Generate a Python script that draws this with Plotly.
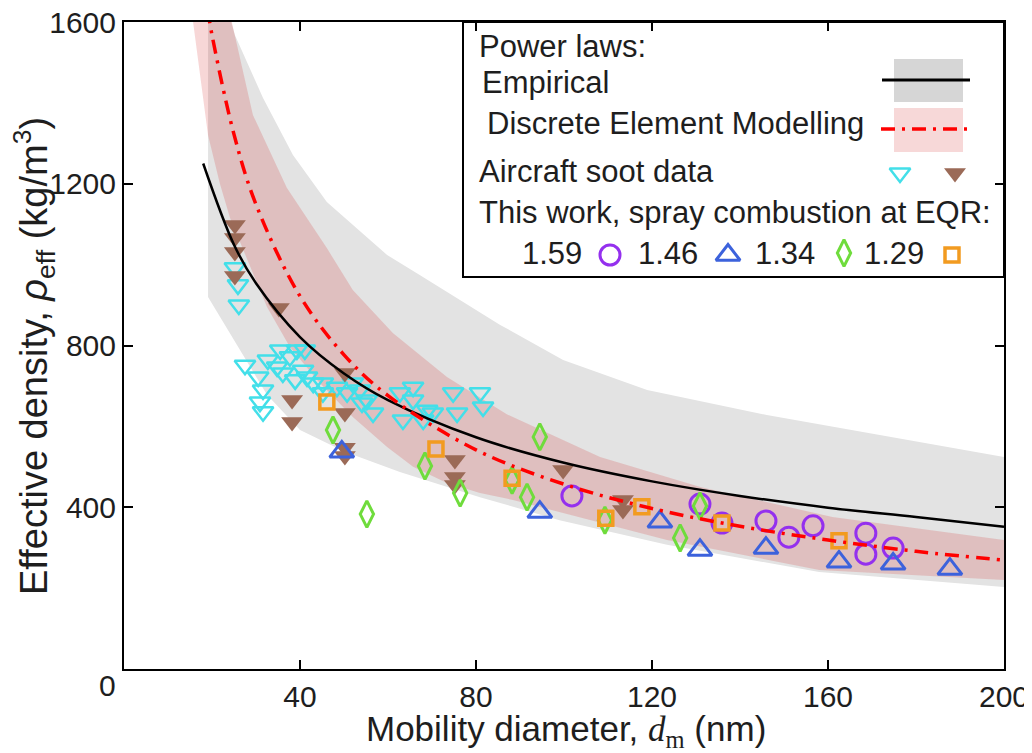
import plotly.graph_objects as go

# ---------------- data ----------------
# Empirical power law (black line) and its band
emp_d = [18.0, 25, 30, 40, 50, 60, 80, 100, 120, 140, 160, 180, 200]
emp_rho = [1250, 1049, 954, 821, 731, 665, 573, 510, 464, 428, 399, 376, 352]
emp_up_d = [19.1, 25.2, 31.6, 38.4, 46.1, 59.8, 67.3, 85.5, 99.8, 118.9, 146.1, 168.9, 200]
emp_up_rho = [1800, 1568, 1412, 1271, 1155, 1024, 974, 851, 764, 690, 628, 584, 524]
emp_lo_d = [19.1, 25.7, 32.5, 40, 50.2, 62.7, 80.9, 99, 123.4, 158, 200]
emp_lo_rho = [920, 801, 678, 591, 537, 487, 425, 368, 307, 240, 203]

# Discrete Element Modelling power law (red dash-dot) and its band
dem_d = [19, 20, 25, 30, 40, 50, 60, 80, 100, 120, 140, 160, 180, 200]
dem_rho = [1631, 1568, 1322, 1149, 922, 777, 676, 542, 457, 397, 353, 319, 291, 269]
dem_up_d = [15.7, 19, 24.5, 29.3, 37, 46.1, 52, 61.1, 73.4, 87, 108.2, 131, 161, 200]
dem_up_rho = [2270, 1960, 1600, 1370, 1190, 1041, 937, 831, 722, 630, 524, 450, 376, 319]
dem_lo_d = [15.7, 19.1, 21.8, 24.1, 32.5, 37.7, 44.5, 52, 59.8, 65.7, 73.4, 80.9, 88.4, 123.4, 158, 200]
dem_lo_rho = [1600, 1320, 1200, 1115, 895, 796, 707, 623, 549, 500, 460, 435, 418, 319, 245, 220]

# Aircraft soot data (open cyan / filled brown)
air1_d = [25.2, 25.9, 26.1, 27.5, 30.5, 31.6, 30.9, 31.6, 32.7, 35.5, 34.8, 36.1, 37.7, 39.3,
          41.1, 40.7, 38.9, 41.6, 43.0, 45.2, 45.2, 48.4, 50.7, 52.0, 53.6, 55.2, 56.6, 54.1,
          62.7, 65.7, 65.7, 63.4, 68.9, 68.0, 70.2, 74.8, 75.7, 80.9, 81.6]
air1_rho = [992, 950, 900, 751, 722, 690, 660, 636, 764, 789, 747, 732, 772, 789,
            789, 739, 715, 722, 707, 707, 683, 697, 683, 707, 690, 665, 633, 658,
            683, 697, 665, 616, 640, 616, 633, 683, 633, 683, 648]
air2_d = [25.2, 25.2, 25.2, 25.2, 35.2, 38.2, 38.2, 50.2, 50.2, 50.2, 50.2,
          75.2, 75.2, 75.2, 99.8, 113.4, 113.4]
air2_rho = [1098, 1066, 1031, 972, 893, 665, 611, 732, 633, 547, 527,
            517, 475, 455, 492, 418, 393]

# This work, spray combustion at EQR
eqr_labels = ["1.59", "1.46", "1.34", "1.29"]
e159_d = [101.8, 130.9, 135.9, 145.9, 151.1, 156.6, 168.6, 168.6, 174.8]
e159_rho = [428, 408, 361, 366, 326, 354, 336, 284, 299]
e146_d = [49.5, 94.5, 121.8, 130.9, 145.9, 162.5, 174.8, 187.7]
e146_rho = [537, 388, 364, 294, 299, 265, 260, 247]
e134_d = [47.5, 55.2, 68.4, 76.4, 88.2, 91.6, 94.5, 109.3, 126.4, 130.9]
e134_rho = [591, 383, 502, 435, 467, 425, 574, 368, 324, 403]
e129_d = [46.1, 70.9, 88.2, 109.5, 117.7, 135.9, 162.5]
e129_rho = [660, 544, 472, 373, 401, 361, 317]

x_ticks = [40, 80, 120, 160, 200]
y_ticks = [400, 800, 1200, 1600]

# ---------------- styles ----------------
FONT = "Liberation Sans, Arial, sans-serif"
TXT = "#1e1e1e"
C_CYAN = "#43dfe9"
C_BROWN = "#9b6a57"
C_PURPLE = "#9430ee"
C_BLUE = "#3c62dc"
C_GREEN = "#6fdc3c"
C_ORANGE = "#f29b20"
C_GRAYBAND = "#e3e3e3"
C_PINKBAND = "rgba(205,20,20,0.17)"
DASHDOT = "14px,7px,3px,7px"

# The page has an 8px body margin; size the figure so the plot area lands
# at the same screen pixels as the reference.
OFF = 8
W, H = 1032 - OFF, 753 - OFF
L, R, T, B = 124, 1004, 22, 669          # plot area in screen pixels
def px(x):
    return (x - L) / (R - L)
def py(y):
    return (B - y) / (B - T)

fig = go.Figure()

# bands
fig.add_trace(go.Scatter(x=emp_up_d + emp_lo_d[::-1], y=emp_up_rho + emp_lo_rho[::-1],
                         fill="toself", fillcolor=C_GRAYBAND, line=dict(width=0),
                         mode="lines", hoverinfo="skip", showlegend=False))
fig.add_trace(go.Scatter(x=dem_up_d + dem_lo_d[::-1], y=dem_up_rho + dem_lo_rho[::-1],
                         fill="toself", fillcolor=C_PINKBAND, line=dict(width=0),
                         mode="lines", hoverinfo="skip", showlegend=False))

# markers
def open_marker(xs, ys, symbol, color, size, lw):
    fig.add_trace(go.Scatter(x=xs, y=ys, mode="markers", showlegend=False,
                             marker=dict(symbol=symbol, size=size, color=color,
                                         line=dict(width=lw, color=color))))

open_marker(air1_d, air1_rho, "triangle-down-open", C_CYAN, 18, 2.5)
fig.add_trace(go.Scatter(x=air2_d, y=air2_rho, mode="markers", showlegend=False,
                         marker=dict(symbol="triangle-down", size=19, color=C_BROWN,
                                     line=dict(width=0))))
open_marker(e159_d, e159_rho, "circle-open", C_PURPLE, 20, 3)
open_marker(e146_d, e146_rho, "triangle-up-open", C_BLUE, 21, 3)
open_marker(e134_d, e134_rho, "diamond-tall-open", C_GREEN, 19, 3)
open_marker(e129_d, e129_rho, "square-open", C_ORANGE, 14, 3.5)

# power-law lines
fig.add_trace(go.Scatter(x=emp_d, y=emp_rho, mode="lines", showlegend=False,
                         line=dict(color="black", width=2.5, shape="spline")))
fig.add_trace(go.Scatter(x=dem_d, y=dem_rho, mode="lines", showlegend=False,
                         line=dict(color="#ff0000", width=3.5, shape="spline", dash=DASHDOT)))

# ---------------- custom legend ----------------
shapes = []
shapes.append(dict(type="rect", xref="paper", yref="paper", x0=px(463), x1=px(1004),
                   y0=py(277), y1=py(22), fillcolor="white",
                   line=dict(color="black", width=2), layer="below"))
shapes.append(dict(type="rect", xref="paper", yref="paper", x0=px(894), x1=px(963),
                   y0=py(102), y1=py(59), fillcolor="#d6d6d6", line=dict(width=0), layer="below"))
shapes.append(dict(type="rect", xref="paper", yref="paper", x0=px(894), x1=px(963),
                   y0=py(152), y1=py(108), fillcolor="#f7d8d8", line=dict(width=0), layer="below"))
shapes.append(dict(type="line", xref="paper", yref="paper", x0=px(882), x1=px(970),
                   y0=py(80), y1=py(80), line=dict(color="black", width=3), layer="below"))
shapes.append(dict(type="line", xref="paper", yref="paper", x0=px(881), x1=px(972),
                   y0=py(129), y1=py(129), line=dict(color="#ff0000", width=3.5, dash=DASHDOT),
                   layer="below"))

LEG_FS = 31
annotations = []
def text(x, y, s, size=LEG_FS, xanchor="left", **kw):
    annotations.append(dict(xref="paper", yref="paper", x=px(x), y=py(y), text=s,
                            showarrow=False, xanchor=xanchor, yanchor="middle",
                            font=dict(family=FONT, size=size, color=TXT), **kw))

text(477, 47, "Power laws:")
text(480, 82, "Empirical")
text(485, 124, "Discrete Element Modelling")
text(477, 172, "Aircraft soot data")
text(477, 213, "This work, spray combustion at EQR:")
for lab, xl in zip(eqr_labels, [520, 636, 753, 862]):
    text(xl, 254, lab)

# legend glyphs on an overlay axis spanning the plot area
leg_glyphs = [
    (900, 173, "triangle-down-open", C_CYAN, 18, 2.5),
    (955, 173, "triangle-down", C_BROWN, 19, 0),
    (610, 255, "circle-open", C_PURPLE, 20, 3),
    (728, 255, "triangle-up-open", C_BLUE, 21, 3),
    (844, 253, "diamond-tall-open", C_GREEN, 19, 3),
    (952, 255, "square-open", C_ORANGE, 14, 3.5),
]
for gx, gy, sym, col, sz, lw in leg_glyphs:
    fig.add_trace(go.Scatter(x=[px(gx)], y=[py(gy)], xaxis="x2", yaxis="y2", mode="markers",
                             showlegend=False, cliponaxis=False, hoverinfo="skip",
                             marker=dict(symbol=sym, size=sz, color=col,
                                         line=dict(width=lw, color=col))))

# axis titles and the lone "0" label
annotations.append(dict(xref="paper", yref="paper", x=px(566), y=py(731),
                        text="Mobility diameter, <span style=\"font-family:'Liberation Serif'\"><i>d</i><sub>m</sub></span> (nm)",
                        showarrow=False, xanchor="center", yanchor="middle",
                        font=dict(family=FONT, size=35, color=TXT)))
annotations.append(dict(xref="paper", yref="paper", x=px(34), y=py(356),
                        text="Effective density, <i>ρ</i><sub>eff</sub> (kg/m<sup>3</sup>)",
                        showarrow=False, xanchor="center", yanchor="middle", textangle=-90,
                        font=dict(family=FONT, size=38, color=TXT)))
annotations.append(dict(xref="paper", yref="paper", x=px(118), y=py(685), text="0",
                        showarrow=False, xanchor="right", yanchor="middle",
                        font=dict(family=FONT, size=30, color=TXT)))

axis_common = dict(showline=True, linecolor="black", linewidth=2, mirror="ticks",
                   ticks="inside", ticklen=9, tickwidth=2, tickcolor="black",
                   showgrid=False, zeroline=False, automargin=False,
                   ticklabeloverflow="allow")

fig.update_layout(
    width=W, height=H,
    margin=dict(l=L - OFF, r=W - (R - OFF), t=T - OFF, b=H - (B - OFF), pad=0,
                autoexpand=False),
    paper_bgcolor="white", plot_bgcolor="white",
    showlegend=False,
    xaxis=dict(range=[0, 200], tickvals=x_ticks, ticktext=[str(v) for v in x_ticks],
               tickfont=dict(family=FONT, size=30, color=TXT), **axis_common),
    yaxis=dict(range=[0, 1600], tickvals=y_ticks, ticktext=[str(v) for v in y_ticks],
               tickfont=dict(family=FONT, size=30, color=TXT), **axis_common),
    xaxis2=dict(overlaying="x", range=[0, 1], visible=False, anchor="y2"),
    yaxis2=dict(overlaying="y", range=[0, 1], visible=False, anchor="x2"),
    shapes=shapes,
    annotations=annotations,
)

fig.write_html("out.html")
